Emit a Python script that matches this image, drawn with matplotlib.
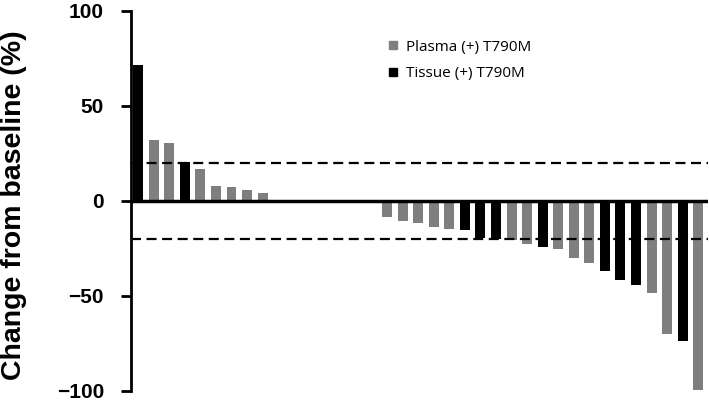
import matplotlib
matplotlib.use("Agg")
import matplotlib.pyplot as plt
from matplotlib.lines import Line2D

# waterfall: best change from baseline per patient
changes = [71.6, 32.1, 30.6, 20.5, 17.0, 8.0, 7.5, 5.7, 4.0,
           0, 0, 0, 0, 0, 0, 0,
           -8.7, -10.8, -11.7, -13.9, -14.7, -15.2, -19.5, -19.9, -20.7,
           -22.6, -24.2, -25.2, -29.9, -32.8, -36.9, -41.8, -44.2, -48.6,
           -70.3, -73.7, -99.5]
# 'T' = tissue (+) T790M, 'P' = plasma (+) T790M
source = list("TPPTPPPPP" + "PPPPPPP" + "PPPPPTTTPPTPPPTTTPPTP")

yticks = [100, 50, 0, -50, -100]
ytick_labels = ["100", "50", "0", "\u221250", "\u2212100"]
cutoffs = [20, -20]

gray = "#7f7f7f"
colors = ["black" if s == "T" else gray for s in source]

plt.rcParams['lines.scale_dashes'] = False

fig = plt.figure(figsize=(7.09, 4.03), dpi=100)
ax = fig.add_axes([0.185, 0.03, 0.813, 0.943])

ax.bar(range(len(changes)), changes, width=0.64, color=colors, zorder=2)

ax.axhline(0, color="black", lw=2.5, zorder=3)
for c in cutoffs:
    ax.axhline(c, color="black", lw=1.6, dashes=(7.2, 4), zorder=4)

ax.set_xlim(-0.45, 36.6)
ax.set_ylim(-100, 100)
ax.set_yticks(yticks)
ax.set_yticklabels(ytick_labels, fontfamily="Liberation Sans",
                   fontweight="bold", fontsize=15)
ax.set_xticks([])
for s in ["top", "right", "bottom"]:
    ax.spines[s].set_visible(False)
ax.spines["left"].set_linewidth(2)
ax.tick_params(axis="y", length=7.5, width=2, pad=12)

ax.set_ylabel("Change from baseline (%)", fontfamily="Liberation Sans",
              fontweight="bold", fontsize=20.5)
ax.yaxis.set_label_coords(-0.18, 0.49)

handles = [Line2D([], [], ls="none", marker="s", ms=5.5, color=gray),
           Line2D([], [], ls="none", marker="s", ms=5.5, color="black")]
leg = ax.legend(handles, ["Plasma (+) T790M", "Tissue (+) T790M"],
                loc="upper left", bbox_to_anchor=(0.418, 0.96),
                frameon=False, prop={"family": "Open Sans", "size": 11},
                handletextpad=0.35, handlelength=1.0, labelspacing=0.75)

fig.savefig("out.png", dpi=100)
